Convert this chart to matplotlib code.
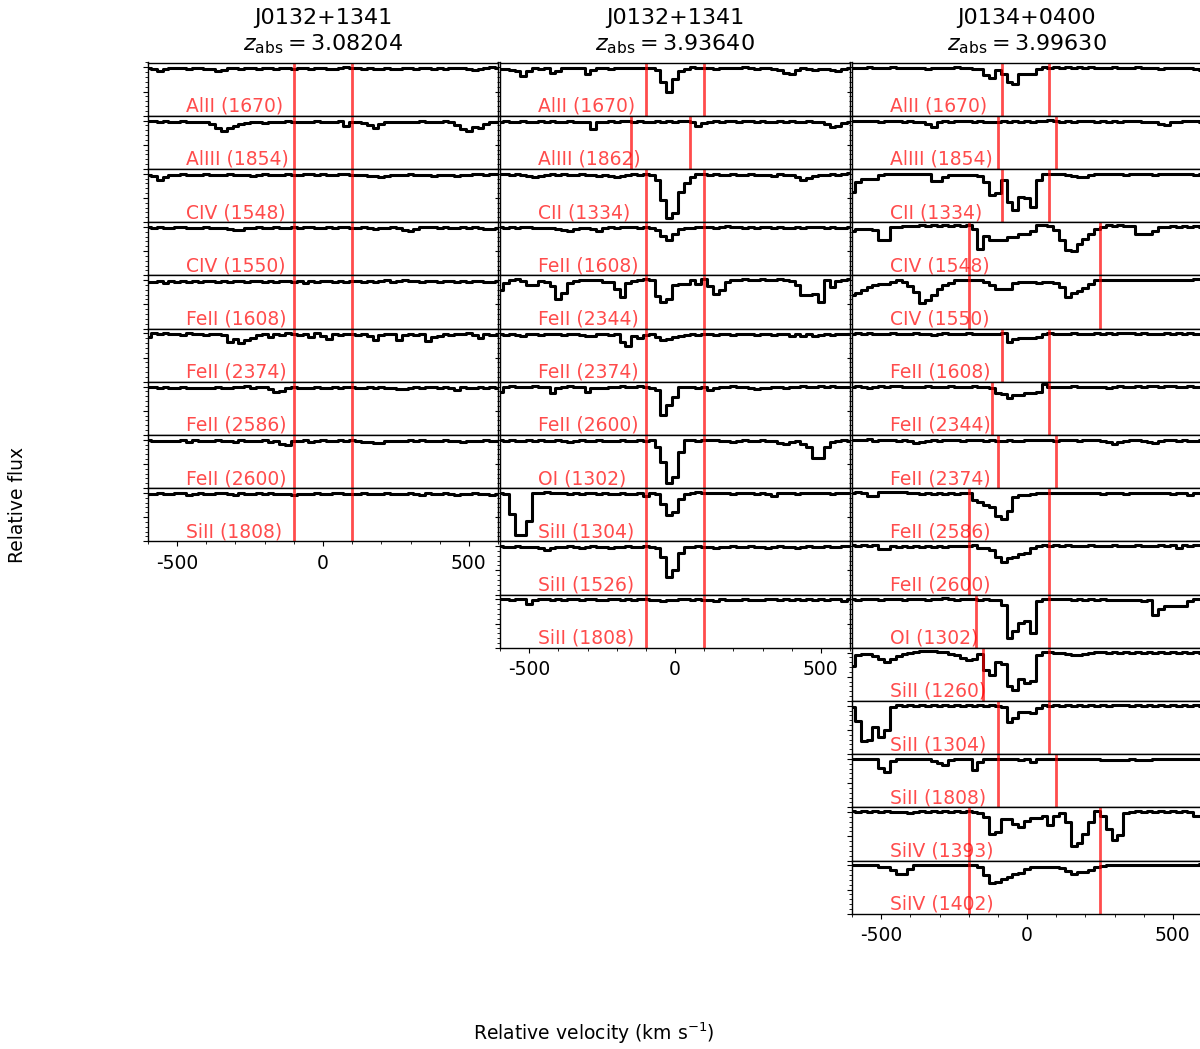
#!/usr/bin/env python3
"""Velocity stacks of metal lines for three absorbers."""

import matplotlib

matplotlib.use("Agg")
import matplotlib.pyplot as plt
import numpy as np
from matplotlib.ticker import MultipleLocator

plt.rcParams["axes.unicode_minus"] = False

# common velocity grid (km/s), flux given in percent of continuum
VEL = np.arange(-600, 601, 20)

# ---- J0132+1341, z_abs = 3.08204
c1_alii_1670 = [
    99, 97, 93, 96, 98, 99, 98, 97, 99, 98,
    97, 96, 92, 95, 98, 99, 97, 99, 98, 96,
    98, 99, 97, 98, 99, 97, 99, 98, 96, 98,
    99, 97, 96, 98, 100, 99, 98, 97, 98, 96,
    97, 98, 97, 96, 99, 98, 97, 98, 99, 97,
    98, 97, 98, 99, 98, 96, 95, 97, 98, 100, 99]
c1_aliii_1854 = [
    99, 100, 98, 99, 97, 98, 99, 98, 97, 98,
    97, 93, 85, 79, 84, 88, 92, 94, 96, 97,
    95, 97, 98, 97, 99, 98, 96, 98, 97, 99,
    97, 96, 98, 100, 88, 97, 96, 95, 90, 84,
    93, 96, 97, 98, 96, 97, 98, 99, 98, 97,
    98, 99, 96, 90, 82, 79, 86, 85, 92, 96, 98]
c1_civ_1548 = [
    98, 96, 88, 93, 97, 98, 99, 98, 97, 98,
    99, 97, 98, 97, 99, 98, 97, 98, 96, 98,
    99, 98, 97, 98, 99, 98, 97, 99, 100, 98,
    99, 97, 98, 99, 100, 98, 97, 98, 96, 95,
    93, 95, 97, 98, 97, 99, 98, 97, 98, 96,
    97, 98, 97, 96, 98, 97, 99, 100, 98, 100, 99]
c1_civ_1550 = [
    99, 98, 99, 97, 98, 100, 99, 98, 97, 98,
    99, 98, 97, 98, 96, 93, 94, 97, 98, 99,
    98, 97, 99, 98, 97, 99, 98, 100, 99, 98,
    97, 99, 98, 100, 99, 98, 97, 99, 98, 96,
    97, 98, 99, 97, 93, 91, 95, 99, 100, 99,
    98, 99, 98, 97, 99, 98, 99, 97, 95, 96, 97]
c1_feii_1608 = [
    97, 96, 98, 95, 98, 97, 99, 96, 98, 97,
    99, 98, 96, 98, 97, 99, 98, 97, 99, 98,
    97, 98, 96, 99, 98, 97, 99, 95, 98, 97,
    99, 98, 96, 98, 97, 99, 98, 97, 99, 97,
    98, 100, 96, 99, 100, 99, 98, 97, 99, 98,
    97, 99, 98, 97, 98, 97, 98, 99, 96, 97, 98]
c1_feii_2374 = [
    93, 100, 99, 100, 98, 99, 97, 100, 98, 99,
    97, 99, 98, 97, 82, 88, 80, 86, 90, 96,
    98, 93, 99, 97, 100, 98, 96, 99, 92, 100,
    95, 89, 98, 97, 98, 99, 97, 98, 95, 86,
    97, 99, 98, 86, 96, 98, 97, 99, 85, 92,
    95, 98, 97, 99, 98, 100, 97, 91, 99, 97, 96]
c1_feii_2586 = [
    99, 100, 98, 99, 98, 97, 99, 98, 97, 96,
    97, 98, 99, 97, 98, 100, 99, 101, 98, 100,
    99, 94, 89, 90, 98, 99, 97, 98, 96, 99,
    98, 97, 99, 98, 99, 100, 98, 97, 99, 98,
    99, 98, 97, 95, 94, 97, 99, 98, 100, 99,
    98, 99, 97, 92, 99, 98, 97, 99, 98, 99, 98]
c1_feii_2600 = [
    100, 97, 98, 97, 98, 97, 99, 96, 100, 97,
    98, 97, 99, 97, 98, 96, 99, 97, 98, 97,
    99, 96, 98, 91, 90, 98, 97, 99, 96, 98,
    99, 97, 98, 99, 98, 99, 97, 96, 95, 94,
    93, 97, 98, 97, 98, 99, 97, 100, 98, 97,
    98, 99, 97, 98, 96, 98, 97, 98, 99, 97, 98]
c1_siii_1808 = [
    98, 97, 99, 98, 97, 99, 100, 96, 98, 99,
    97, 98, 100, 99, 98, 96, 99, 98, 97, 99,
    98, 99, 97, 98, 97, 96, 98, 97, 98, 99,
    97, 98, 99, 100, 98, 97, 98, 99, 98, 97,
    98, 99, 98, 97, 98, 99, 98, 96, 99, 98,
    97, 99, 98, 96, 98, 97, 99, 98, 97, 96, 98]

# ---- J0132+1341, z_abs = 3.93640
c2_alii_1670 = [
    96, 97, 95, 92, 82, 93, 98, 97, 99, 88,
    92, 98, 99, 98, 99, 87, 95, 98, 99, 97,
    98, 99, 98, 99, 98, 99, 98, 94, 70, 50,
    76, 92, 97, 100, 99, 98, 99, 97, 98, 99,
    98, 99, 100, 98, 97, 99, 98, 96, 95, 88,
    87, 95, 98, 97, 95, 96, 97, 95, 93, 97, 98]
c2_aliii_1862 = [
    98, 99, 97, 98, 99, 98, 97, 99, 98, 99,
    98, 97, 99, 98, 97, 96, 82, 96, 98, 99,
    98, 99, 100, 98, 99, 97, 98, 99, 98, 99,
    98, 99, 100, 96, 89, 95, 98, 99, 98, 100,
    99, 98, 99, 100, 98, 99, 98, 97, 99, 98,
    99, 98, 97, 99, 98, 97, 92, 87, 88, 95, 96]
c2_cii_1334 = [
    100, 99, 98, 99, 97, 95, 94, 96, 98, 99,
    98, 99, 97, 98, 99, 97, 98, 96, 97, 95,
    93, 96, 98, 99, 98, 100, 98, 88, 45, 8,
    18, 62, 80, 93, 99, 100, 98, 99, 97, 98,
    99, 97, 98, 99, 98, 97, 98, 96, 99, 98,
    97, 93, 88, 92, 96, 98, 97, 99, 98, 100, 101]
c2_feii_1608 = [
    99, 98, 99, 98, 100, 99, 98, 97, 98, 97,
    96, 94, 91, 95, 97, 98, 96, 92, 97, 99,
    98, 99, 100, 99, 98, 99, 98, 94, 82, 72,
    86, 95, 97, 98, 99, 100, 99, 98, 99, 101,
    100, 99, 98, 99, 98, 99, 100, 98, 99, 97,
    98, 99, 98, 99, 100, 99, 98, 99, 97, 98, 99]
c2_feii_2344 = [
    79, 95, 101, 102, 98, 89, 89, 99, 96, 88,
    62, 74, 94, 98, 101, 101, 100, 101, 97, 96,
    82, 66, 95, 98, 101, 102, 101, 67, 55, 62,
    89, 92, 93, 101, 92, 102, 87, 72, 80, 97,
    100, 101, 102, 100, 101, 103, 101, 100, 102, 100,
    98, 90, 70, 69, 72, 55, 101, 85, 99, 101, 102]
c2_feii_2374 = [
    99, 97, 98, 96, 95, 99, 98, 97, 99, 98,
    99, 97, 98, 99, 97, 95, 94, 98, 99, 97,
    98, 82, 74, 95, 90, 97, 98, 92, 86, 88,
    93, 95, 96, 98, 97, 99, 98, 97, 99, 98,
    97, 98, 99, 98, 97, 99, 98, 97, 98, 99,
    94, 98, 95, 99, 94, 97, 98, 96, 98, 99, 98]
c2_feii_2600 = [
    88, 100, 101, 100, 99, 100, 101, 99, 100, 86,
    98, 99, 101, 100, 99, 89, 97, 96, 98, 99,
    100, 101, 99, 100, 101, 99, 98, 92, 42, 62,
    79, 100, 100, 99, 98, 99, 93, 96, 99, 100,
    101, 100, 99, 98, 95, 96, 98, 99, 100, 98,
    99, 100, 101, 99, 100, 102, 100, 101, 100, 99, 100]
c2_oi_1302 = [
    99, 98, 99, 97, 98, 99, 98, 99, 97, 98,
    99, 98, 96, 98, 99, 97, 98, 99, 98, 97,
    98, 99, 98, 97, 99, 98, 99, 85, 55, 10,
    22, 75, 100, 99, 98, 99, 100, 99, 98, 97,
    96, 98, 99, 97, 98, 99, 97, 98, 94, 91,
    96, 97, 92, 86, 62, 62, 86, 95, 98, 99, 98]
c2_siii_1304 = [
    99, 98, 57, 14, 13, 42, 99, 100, 101, 100,
    99, 100, 98, 99, 97, 100, 99, 98, 99, 97,
    98, 99, 98, 97, 99, 94, 100, 97, 78, 54,
    60, 88, 98, 100, 101, 100, 99, 100, 99, 100,
    98, 99, 100, 99, 98, 99, 97, 94, 99, 100,
    99, 98, 99, 100, 99, 100, 99, 98, 100, 99, 100]
c2_siii_1526 = [
    100, 99, 98, 100, 99, 98, 99, 97, 93, 97,
    99, 98, 100, 99, 97, 98, 100, 99, 98, 97,
    99, 98, 100, 99, 98, 100, 99, 97, 78, 37,
    50, 85, 98, 99, 100, 99, 98, 97, 99, 98,
    100, 99, 98, 100, 99, 98, 97, 99, 100, 98,
    99, 97, 99, 100, 98, 99, 100, 98, 99, 100, 101]
c2_siii_1808 = [
    100, 101, 99, 100, 101, 90, 99, 100, 101, 99,
    100, 98, 101, 100, 99, 100, 101, 99, 98, 100,
    101, 99, 100, 98, 101, 100, 99, 98, 97, 99,
    98, 100, 101, 99, 100, 98, 99, 97, 100, 99,
    98, 99, 100, 99, 98, 99, 100, 101, 99, 100,
    98, 100, 99, 101, 99, 100, 98, 100, 101, 97, 100]

# ---- J0134+0400, z_abs = 3.99630
c3_alii_1670 = [
    99, 98, 99, 100, 99, 98, 99, 100, 99, 98,
    99, 98, 99, 97, 98, 99, 98, 99, 100, 98,
    99, 97, 97, 85, 78, 95, 86, 70, 65, 86,
    87, 87, 96, 100, 99, 100, 99, 100, 99, 100,
    99, 100, 99, 98, 99, 100, 99, 98, 99, 100,
    99, 98, 99, 97, 98, 99, 98, 99, 98, 96, 95]
c3_aliii_1854 = [
    100, 99, 100, 99, 100, 98, 99, 100, 99, 98,
    99, 98, 97, 93, 87, 96, 99, 98, 99, 100,
    99, 98, 99, 98, 97, 98, 99, 98, 99, 98,
    99, 98, 99, 100, 101, 99, 98, 99, 98, 99,
    100, 99, 98, 99, 98, 99, 98, 99, 100, 99,
    98, 97, 98, 92, 90, 96, 98, 99, 100, 99, 98]
c3_cii_1334 = [
    62, 82, 89, 89, 89, 98, 99, 99, 100, 99,
    100, 99, 100, 99, 84, 86, 93, 98, 98, 97,
    98, 97, 96, 83, 56, 60, 88, 42, 26, 52,
    50, 32, 88, 100, 99, 100, 99, 98, 96, 93,
    94, 98, 99, 100, 99, 100, 99, 98, 100, 99,
    100, 99, 98, 100, 99, 100, 99, 100, 99, 98, 99]
c3_civ_1548 = [
    91, 96, 96, 96, 93, 72, 72, 99, 100, 101,
    102, 102, 103, 102, 103, 102, 103, 102, 103, 102,
    103, 96, 55, 82, 74, 74, 74, 79, 79, 86,
    86, 92, 103, 103, 102, 93, 72, 52, 51, 65,
    76, 86, 96, 100, 103, 102, 103, 102, 102, 86,
    86, 86, 92, 99, 100, 101, 100, 101, 100, 101, 100]
c3_civ_1550 = [
    69, 73, 80, 86, 90, 93, 93, 97, 100, 96,
    87, 76, 52, 58, 69, 82, 89, 95, 100, 100,
    100, 100, 100, 97, 89, 82, 82, 82, 94, 96,
    96, 96, 95, 96, 96, 95, 86, 66, 73, 78,
    84, 92, 100, 101, 100, 101, 100, 101, 100, 101,
    100, 101, 100, 101, 100, 101, 100, 101, 101, 102, 102]
c3_feii_1608 = [
    99, 100, 99, 100, 99, 98, 99, 100, 99, 98,
    99, 100, 99, 98, 97, 99, 100, 99, 98, 99,
    100, 99, 98, 99, 98, 99, 100, 82, 88, 91,
    91, 91, 93, 99, 100, 99, 98, 99, 100, 99,
    98, 99, 100, 99, 100, 99, 100, 101, 100, 99,
    100, 99, 98, 99, 100, 99, 100, 99, 100, 99, 99]
c3_feii_2344 = [
    100, 101, 99, 98, 100, 101, 100, 101, 102, 100,
    100, 99, 100, 101, 100, 99, 100, 101, 100, 99,
    100, 101, 100, 99, 96, 86, 85, 76, 82, 82,
    87, 87, 88, 106, 100, 100, 99, 100, 101, 100,
    99, 100, 99, 100, 98, 100, 101, 99, 100, 101,
    100, 102, 101, 100, 102, 101, 99, 100, 101, 99, 100]
c3_feii_2374 = [
    100, 99, 100, 101, 98, 99, 100, 99, 98, 99,
    97, 93, 96, 98, 99, 98, 99, 100, 99, 98,
    99, 100, 99, 98, 99, 97, 98, 99, 97, 98,
    99, 100, 99, 100, 99, 98, 99, 100, 99, 98,
    99, 100, 99, 98, 96, 92, 95, 98, 99, 100,
    98, 96, 94, 97, 99, 100, 98, 99, 97, 98, 99]
c3_feii_2586 = [
    100, 101, 100, 93, 94, 101, 102, 101, 102, 101,
    99, 99, 98, 99, 98, 99, 98, 99, 98, 99,
    99, 86, 82, 76, 70, 52, 46, 62, 91, 96,
    96, 97, 99, 100, 99, 100, 99, 100, 99, 100,
    99, 100, 99, 98, 99, 100, 99, 98, 99, 100,
    99, 100, 99, 100, 99, 98, 99, 100, 96, 99, 100]
c3_feii_2600 = [
    102, 101, 102, 101, 102, 95, 95, 100, 99, 100,
    99, 100, 99, 100, 99, 100, 99, 100, 101, 100,
    101, 102, 97, 96, 92, 77, 68, 76, 78, 83,
    85, 96, 101, 102, 101, 102, 101, 102, 101, 100,
    101, 102, 101, 100, 101, 102, 101, 100, 101, 102,
    101, 100, 101, 102, 101, 102, 96, 102, 101, 102, 102]
c3_oi_1302 = [
    100, 99, 100, 101, 100, 99, 100, 101, 100, 99,
    100, 101, 100, 99, 100, 101, 102, 100, 99, 100,
    101, 100, 99, 100, 99, 98, 88, 20, 35, 52,
    55, 30, 96, 100, 101, 100, 101, 100, 99, 100,
    99, 100, 99, 100, 99, 98, 99, 98, 99, 98,
    97, 98, 68, 80, 87, 87, 87, 86, 97, 100, 101]
c3_siii_1260 = [
    73, 95, 98, 97, 92, 86, 80, 87, 92, 96,
    99, 102, 104, 104, 103, 102, 101, 98, 94, 88,
    84, 86, 98, 63, 53, 80, 77, 30, 22, 46,
    36, 42, 95, 101, 101, 100, 99, 97, 95, 94,
    97, 100, 102, 101, 100, 101, 100, 101, 100, 101,
    100, 101, 100, 101, 100, 101, 100, 101, 100, 101, 100]
c3_siii_1304 = [
    98, 69, 28, 30, 55, 35, 50, 98, 101, 100,
    101, 100, 101, 100, 101, 100, 101, 100, 101, 100,
    101, 100, 101, 100, 101, 100, 97, 66, 75, 87,
    87, 84, 96, 101, 100, 101, 100, 101, 100, 101,
    100, 101, 100, 101, 100, 101, 102, 101, 100, 101,
    100, 101, 100, 101, 100, 101, 100, 101, 100, 101, 100]
c3_siii_1808 = [
    100, 99, 100, 99, 100, 82, 74, 95, 100, 99,
    100, 99, 100, 99, 96, 92, 88, 97, 100, 99,
    100, 78, 93, 100, 99, 100, 99, 100, 99, 98,
    99, 93, 99, 100, 99, 100, 99, 100, 99, 100,
    99, 100, 99, 98, 97, 98, 97, 98, 99, 98,
    97, 98, 99, 100, 99, 100, 99, 100, 99, 100, 99]
c3_siiv_1393 = [
    102, 101, 102, 101, 102, 101, 102, 101, 100, 101,
    98, 101, 102, 101, 102, 101, 102, 101, 102, 101,
    102, 101, 99, 90, 54, 58, 85, 85, 76, 70,
    82, 88, 88, 91, 73, 93, 98, 80, 29, 36,
    55, 80, 102, 92, 66, 43, 52, 98, 101, 102,
    101, 102, 101, 102, 101, 102, 101, 102, 101, 91, 92]
c3_siiv_1402 = [
    100, 101, 100, 101, 100, 97, 97, 90, 82, 82,
    92, 100, 101, 100, 101, 100, 101, 100, 101, 100,
    101, 100, 96, 80, 63, 66, 71, 76, 82, 85,
    92, 96, 97, 96, 97, 96, 95, 88, 83, 86,
    86, 90, 96, 99, 100, 101, 100, 101, 100, 101,
    100, 101, 100, 101, 100, 101, 100, 101, 100, 101, 102]

QSO_NAMES = ["J0132+1341", "J0132+1341", "J0134+0400"]
Z_ABS = ["3.08204", "3.93640", "3.99630"]

# (label, flux, velocity integration limits)
PANELS = [
    [
        ("AlII (1670)", c1_alii_1670, (-100, 100)),
        ("AlIII (1854)", c1_aliii_1854, (-100, 100)),
        ("CIV (1548)", c1_civ_1548, (-100, 100)),
        ("CIV (1550)", c1_civ_1550, (-100, 100)),
        ("FeII (1608)", c1_feii_1608, (-100, 100)),
        ("FeII (2374)", c1_feii_2374, (-100, 100)),
        ("FeII (2586)", c1_feii_2586, (-100, 100)),
        ("FeII (2600)", c1_feii_2600, (-100, 100)),
        ("SiII (1808)", c1_siii_1808, (-100, 100)),
    ],
    [
        ("AlII (1670)", c2_alii_1670, (-100, 100)),
        ("AlIII (1862)", c2_aliii_1862, (-150, 50)),
        ("CII (1334)", c2_cii_1334, (-100, 100)),
        ("FeII (1608)", c2_feii_1608, (-100, 100)),
        ("FeII (2344)", c2_feii_2344, (-100, 100)),
        ("FeII (2374)", c2_feii_2374, (-100, 100)),
        ("FeII (2600)", c2_feii_2600, (-100, 100)),
        ("OI (1302)", c2_oi_1302, (-100, 100)),
        ("SiII (1304)", c2_siii_1304, (-100, 100)),
        ("SiII (1526)", c2_siii_1526, (-100, 100)),
        ("SiII (1808)", c2_siii_1808, (-100, 100)),
    ],
    [
        ("AlII (1670)", c3_alii_1670, (-85, 75)),
        ("AlIII (1854)", c3_aliii_1854, (-100, 100)),
        ("CII (1334)", c3_cii_1334, (-85, 75)),
        ("CIV (1548)", c3_civ_1548, (-200, 250)),
        ("CIV (1550)", c3_civ_1550, (-200, 250)),
        ("FeII (1608)", c3_feii_1608, (-85, 75)),
        ("FeII (2344)", c3_feii_2344, (-120, 75)),
        ("FeII (2374)", c3_feii_2374, (-100, 100)),
        ("FeII (2586)", c3_feii_2586, (-200, 75)),
        ("FeII (2600)", c3_feii_2600, (-200, 75)),
        ("OI (1302)", c3_oi_1302, (-175, 75)),
        ("SiII (1260)", c3_siii_1260, (-150, 75)),
        ("SiII (1304)", c3_siii_1304, (-100, 75)),
        ("SiII (1808)", c3_siii_1808, (-100, 100)),
        ("SiIV (1393)", c3_siiv_1393, (-200, 250)),
        ("SiIV (1402)", c3_siiv_1402, (-200, 250)),
    ],
]


def main():
    W, H = 1200, 1049
    fig = plt.figure(figsize=(W / 100, H / 100), dpi=100)

    col_left = [148, 500, 852]
    col_width = 350
    top = 62.5
    row_h = 53.2
    line_red = "r"

    for col, panels in enumerate(PANELS):
        n = len(panels)
        for i, (label, flux, (v_lo, v_hi)) in enumerate(panels):
            bottom = top + (i + 1) * row_h
            ax = fig.add_axes([col_left[col] / W, 1 - bottom / H, col_width / W, row_h / H])
            ax.step(VEL, np.asarray(flux) / 100.0, where="mid", color="k", lw=2.2)
            ax.axvline(v_lo, color=line_red, alpha=0.7, lw=2)
            ax.axvline(v_hi, color=line_red, alpha=0.7, lw=2)
            ax.text(-470, 0.0, label, color=line_red, alpha=0.7, fontsize=13.5, va="bottom")

            ax.set_xlim(-600, 600)
            ax.set_ylim(0, 1.1)
            ax.yaxis.set_major_locator(MultipleLocator(0.5))
            ax.yaxis.set_minor_locator(MultipleLocator(0.1))
            ax.tick_params(axis="y", which="both", labelleft=False)
            for spine in ax.spines.values():
                spine.set_linewidth(1.0)

            if i < n - 1:
                ax.tick_params(axis="x", which="both", bottom=False, labelbottom=False)
            else:
                ax.xaxis.set_major_locator(MultipleLocator(500))
                ax.xaxis.set_minor_locator(MultipleLocator(100))
                ax.tick_params(axis="x", labelsize=13.5, pad=5.5)

            if i == 0:
                ax.set_title(
                    f"{QSO_NAMES[col]}\n$z_{{\\rm abs}} = {Z_ABS[col]}$",
                    fontsize=16,
                    pad=9,
                )

    fig.text(18 / W, 1 - 505 / H, "Relative flux", rotation=90,
             ha="center", va="center", fontsize=13.5)
    fig.text(594 / W, 1 - 1033 / H, "Relative velocity (km s$^{-1}$)",
             ha="center", va="center", fontsize=13.5)

    fig.savefig("out.png", dpi=100)
    plt.close(fig)


if __name__ == "__main__":
    main()
